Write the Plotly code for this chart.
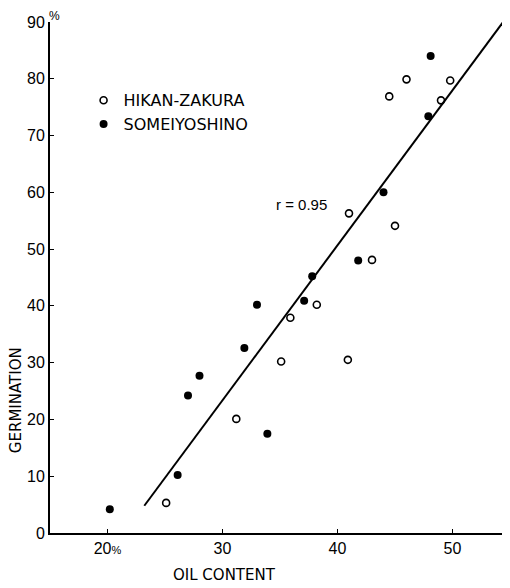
import plotly.graph_objects as go

# Data
hikan_x = [25.1, 31.2, 35.1, 35.9, 38.2, 40.9, 41.0, 43.0, 45.0, 44.5, 46.0, 49.0, 49.8]
hikan_y = [5.3, 20.1, 30.2, 37.9, 40.2, 30.5, 56.3, 48.1, 54.1, 76.9, 79.9, 76.2, 79.7]

somei_x = [20.2, 26.1, 27.0, 28.0, 31.9, 33.0, 33.9, 37.1, 37.8, 41.8, 44.0, 47.9, 48.1]
somei_y = [4.2, 10.2, 24.2, 27.7, 32.6, 40.2, 17.5, 40.9, 45.2, 48.0, 60.0, 73.4, 84.0]

reg_x = [23.2, 54.4]
reg_y = [4.8, 90.0]

x_tickvals = [20, 30, 40, 50]
x_ticktext = ["20<span style='font-size:11px'>%</span>", "30", "40", "50"]
y_tickvals = [0, 10, 20, 30, 40, 50, 60, 70, 80, 90]
y_ticktext = ["0", "10", "20", "30", "40", "50", "60", "70", "80", "90"]

FONT = "Liberation Sans, Arial, sans-serif"

fig = go.Figure()
fig.add_trace(go.Scatter(x=reg_x, y=reg_y, mode="lines",
                         line=dict(color="black", width=2), showlegend=False,
                         hoverinfo="skip"))
fig.add_trace(go.Scatter(x=hikan_x, y=hikan_y, mode="markers", name="HIKAN-ZAKURA",
                         marker=dict(symbol="circle-open", size=7, color="black",
                                     line=dict(width=1.6, color="black"))))
fig.add_trace(go.Scatter(x=somei_x, y=somei_y, mode="markers", name="SOMEIYOSHINO",
                         marker=dict(symbol="circle", size=8, color="black")))

# The page body has an 8px margin, so the figure is sized to fit the window
fig.update_layout(
    width=502, height=580,
    margin=dict(l=42, r=0, t=14, b=55, autoexpand=False),
    paper_bgcolor="white", plot_bgcolor="white",
    font=dict(family=FONT, size=16, color="black"),
    legend=dict(x=0.073, y=0.88, xanchor="left", yanchor="top",
                bgcolor="rgba(0,0,0,0)", itemwidth=30,
                font=dict(family="DejaVu Sans, sans-serif", size=16)),
    xaxis=dict(range=[15, 55], tickvals=x_tickvals, ticktext=x_ticktext,
               showgrid=False, zeroline=False, showline=True, linecolor="black",
               linewidth=2, ticks="inside", ticklen=4, tickcolor="black",
               automargin=False),
    yaxis=dict(range=[0, 90], tickvals=y_tickvals, ticktext=y_ticktext,
               showgrid=False, zeroline=False, showline=True, linecolor="black",
               linewidth=2, ticks="inside", ticklen=4, tickcolor="black",
               automargin=False),
    annotations=[
        dict(text="r = 0.95", x=36.9, y=57.9, xref="x", yref="y", showarrow=False,
             font=dict(family=FONT, size=15)),
        dict(text="OIL CONTENT", x=30.2, xref="x", y=0, yref="paper", yshift=-42,
             yanchor="middle", showarrow=False,
             font=dict(family="DejaVu Sans, sans-serif", size=15)),
        dict(text="GERMINATION", x=0, xref="paper", xshift=-34, xanchor="center",
             y=23.4, yref="y", yanchor="middle",
             textangle=-90, showarrow=False,
             font=dict(family="DejaVu Sans, sans-serif", size=15)),
        dict(text="%", x=0, xref="paper", xshift=-3, y=90, yref="y", yshift=6,
             showarrow=False, font=dict(family=FONT, size=12)),
    ],
)

fig.write_html("out.html")
